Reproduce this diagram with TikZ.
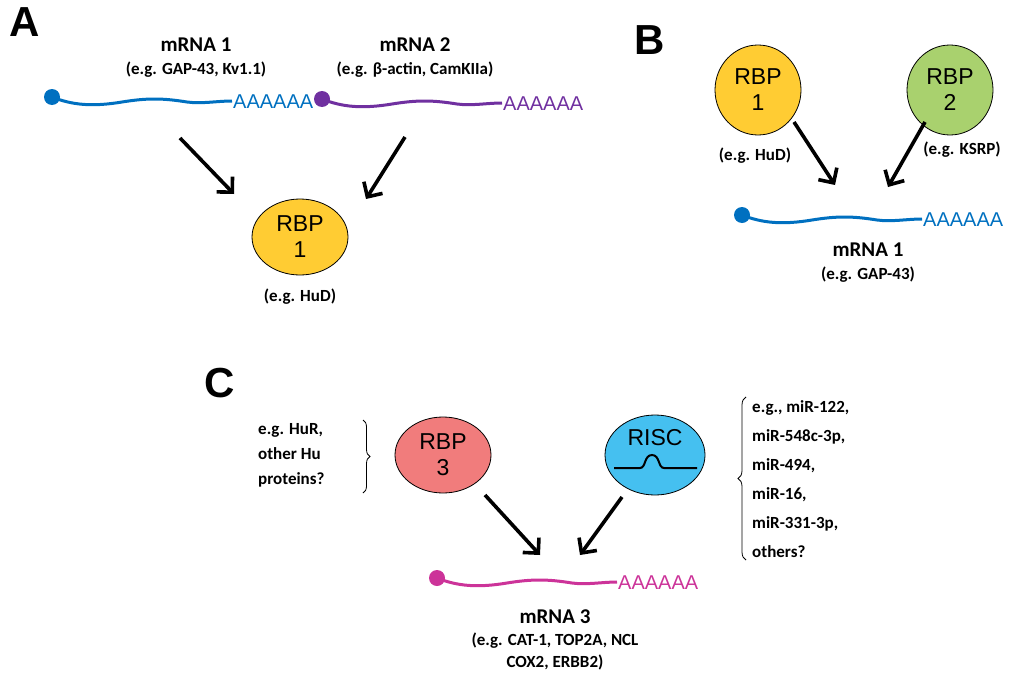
\documentclass[tikz,border=0pt]{standalone}
\usepackage{fontspec}
\setmainfont{Carlito}
\newfontfamily\arialf{Liberation Sans}
\usetikzlibrary{arrows.meta,decorations.pathreplacing,shapes.geometric}
\definecolor{cblue}{RGB}{0,112,192}
\definecolor{cpurp}{RGB}{112,48,160}
\definecolor{cmag}{RGB}{204,51,153}
\definecolor{cyel}{RGB}{255,204,51}
\definecolor{cgrn}{RGB}{169,209,110}
\definecolor{cred}{RGB}{241,124,124}
\definecolor{ccyan}{RGB}{69,192,240}
\tikzset{
 lbl/.style={font=\bfseries\fontsize{21}{23}\selectfont,inner sep=0},
 sub/.style={font=\bfseries\fontsize{17}{19}\selectfont,inner sep=0},
 panel/.style={font=\arialf\bfseries\fontsize{42}{42}\selectfont,inner sep=0},
 rbp/.style={ellipse,draw=black,line width=0.8pt,font=\arialf\fontsize{23}{26}\selectfont,align=center,inner sep=0},
 arr/.style={line width=3.6pt,-{Straight Barb[length=11pt,width=22pt]}},
 polya/.style={font=\arialf\fontsize{20}{20}\selectfont,inner sep=0,anchor=west},
}
% #1 name, #2 x, #3 y, #4 color
\newcommand\mystrand[4]{%
 \begin{scope}[shift={(#2,#3)}]
 \fill[#4] (0,0) circle (8);
 \draw[#4,line width=3pt] (0,0) .. controls (20,8) and (40,10) .. (70,5)
   .. controls (95,1) and (110,1) .. (135,5) .. controls (150,7) and (165,4) .. (180,4) coordinate (#1e);
 \node[polya,text=#4] (#1a) at ([xshift=1,yshift=-1]#1e) {AAAAAA};
 \end{scope}
}
\begin{document}
\begin{tikzpicture}[x=1pt,y=-1pt]
\useasboundingbox (0,0) rectangle (1024,685);
% Panel A
\node[panel] (pA) at (25,22) {A};
\node[lbl] (m1) at (196,45) {mRNA 1};
\node[sub] (m1s) at (196,70) {(e.g. GAP-43, Kv1.1)};
\mystrand{sA}{52}{97}{cblue}
\node[lbl] (m2) at (415,45) {mRNA 2};
\node[sub] (m2s) at (415,70) {(e.g. β-actin, CamKIIa)};
\mystrand{sB}{322}{99}{cpurp}
\node[rbp,fill=cyel,minimum width=96,minimum height=76] (r1) at (300,237) {RBP\\1};
\node[sub] (r1s) at (300,297) {(e.g. HuD)};
\coordinate (a1) at (180,138);
\coordinate (a2) at (405,137);
\draw[arr] (a1) -- (234,194);
\draw[arr] (a2) -- (366,199);
% Panel B
\node[panel] (pB) at (650,40) {B};
\node[rbp,fill=cyel,minimum width=86,minimum height=90] (b1) at (758,90) {RBP\\1};
\node[rbp,fill=cgrn,minimum width=86,minimum height=90] (b2) at (950,90) {RBP\\2};
\node[sub] (b1s) at (755,156) {(e.g. HuD)};
\node[sub] (b2s) at (962,150) {(e.g. KSRP)};
\mystrand{sC}{742}{215}{cblue}
\draw[arr] (b1) ++(36,32) -- (835,185);
\draw[arr] (b2) ++(-25,32) -- (888,187);
\node[lbl] (bm) at (868,250) {mRNA 1};
\node[sub] (bms) at (868,275) {(e.g. GAP-43)};
% Panel C
\node[panel] (pC) at (220,383) {C};
\node[rbp,fill=cred,minimum width=96,minimum height=76] (r3) at (443,455) {RBP\\3};
\node[rbp,fill=ccyan,minimum width=100,minimum height=80] (ri) at (655,455) {};
\node[font=\arialf\fontsize{23}{26}\selectfont,inner sep=0] (rit) at (655,438) {RISC};
\draw[line width=2pt] (614,468) -- (640,468) .. controls (646,468) and (644,455) .. (652,455) .. controls (660,455) and (658,468) .. (664,468) -- (697,468);
\node[sub,align=left,anchor=west,font=\bfseries\fontsize{17}{25}\selectfont] (lt) at (258,455) {e.g. HuR,\\other Hu\\proteins?};
\draw[line width=0.8pt,decorate,decoration={brace,amplitude=7pt}] (363,420) -- (363,493);
\node[sub,align=left,anchor=west,font=\bfseries\fontsize{17}{29}\selectfont] (rt) at (752,479) {e.g., miR-122,\\miR-548c-3p,\\miR-494,\\miR-16,\\miR-331-3p,\\others?};
\draw[line width=0.8pt,decorate,decoration={brace,amplitude=8pt}] (746,560) -- (746,397);
\mystrand{sD}{437}{578}{cmag}
\draw[arr] (485,495) -- (540,555);
\draw[arr] (622,497) -- (580,555);
\node[lbl] (cm) at (555,617) {mRNA 3};
\node[sub,align=center,font=\bfseries\fontsize{17}{22}\selectfont] (cms) at (555,651) {(e.g. CAT-1, TOP2A, NCL\\COX2, ERBB2)};
\end{tikzpicture}
\end{document}
